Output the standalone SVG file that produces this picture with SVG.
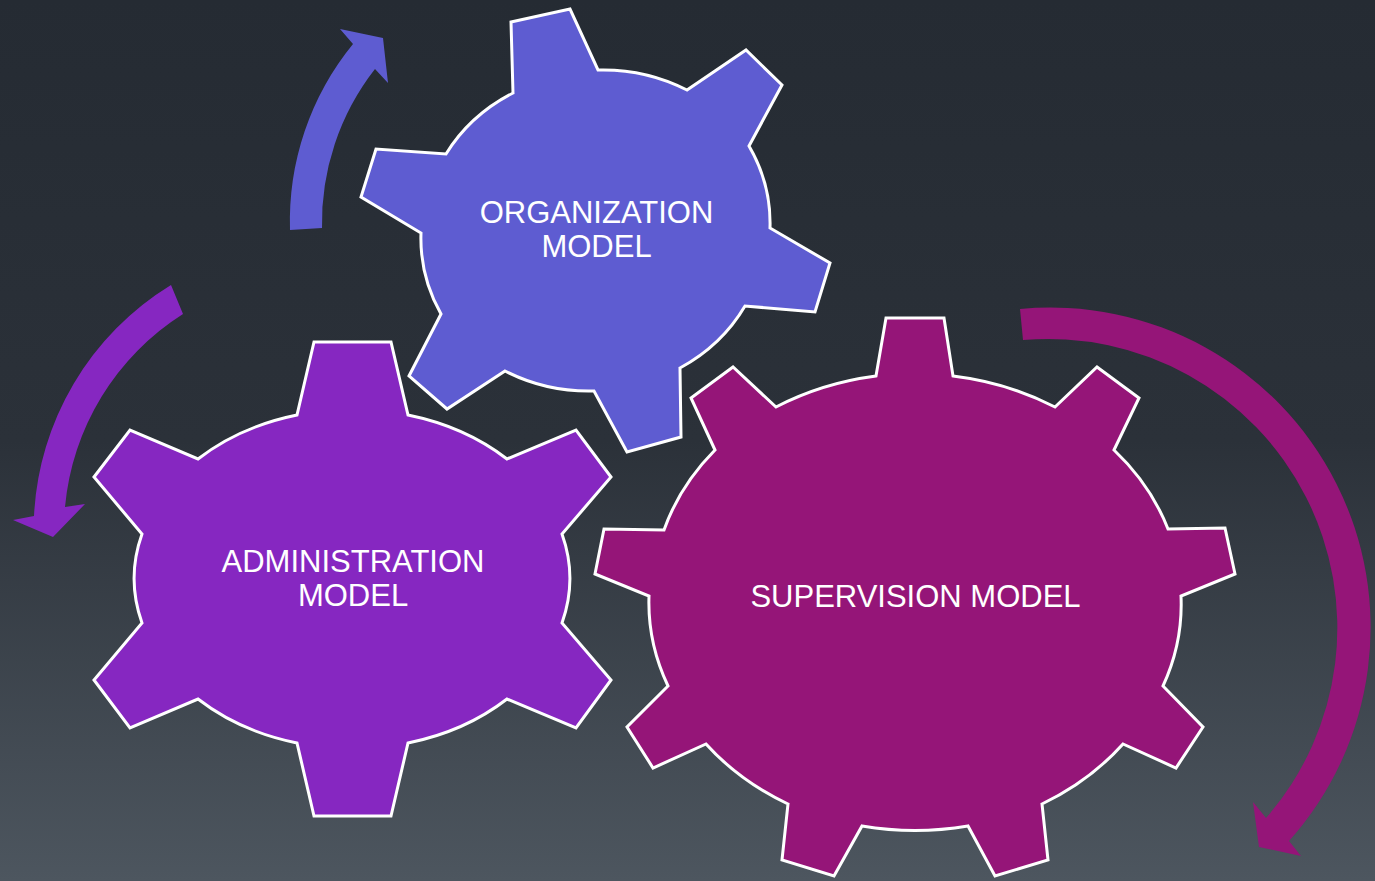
<svg xmlns="http://www.w3.org/2000/svg" width="1375" height="881" viewBox="0 0 1375 881">
  <defs>
    <linearGradient id="bg" x1="0" y1="0" x2="0" y2="1">
      <stop offset="0" stop-color="#252B33"/>
      <stop offset="0.5" stop-color="#2B3139"/>
      <stop offset="1" stop-color="#4D565F"/>
    </linearGradient>
  </defs>
  <style>
    .gear { stroke: #FFFFFF; stroke-width: 3; stroke-linejoin: miter; }
    .blue { fill: #5E5CD1; }
    .violet { fill: #8627C1; }
    .magenta { fill: #951578; }
    .lbl { fill: #FFFFFF; font-family: "Liberation Sans", Arial, sans-serif; font-size: 31px; text-anchor: middle; }
  </style>
  <rect width="1375" height="881" fill="url(#bg)"/>

  <g id="connectors">
    <path class="blue" d="M 290,230 A 280 280 0 0 1 353,44 L 340,29 L 383,38 L 388,83 L 375,69 A 250 250 0 0 0 322,228 Z"/>
    <path class="violet" d="M 171,285 A 287 287 0 0 0 34,516 L 13,520 L 53,537 L 85,504 L 65,507 A 256 256 0 0 1 183,314 Z"/>
    <path class="magenta" d="M 1020,309 A 320 320 0 0 1 1289,841 L 1301,856 L 1259,847 L 1253,802 L 1266,818 A 289 289 0 0 0 1023,340 Z"/>
  </g>

  <g id="organization-model">
    <path class="gear blue" d="M 511,22 L 570,9 L 598,70 A 174 162 0 0 1 687,90 L 746,50 L 782,85 L 749,146 A 174 162 0 0 1 770,228 L 830,263 L 815,312 L 745,306 A 174 162 0 0 1 680,368 L 681,437 L 627,452 L 594,391 A 174 162 0 0 1 505,371 L 447,409 L 409,376 L 441,314 A 174 162 0 0 1 421,233 L 361,197 L 376,149 L 446,154 A 174 162 0 0 1 513,93 Z"/>
    <text class="lbl" x="596.5" y="223">ORGANIZATION</text>
    <text class="lbl" x="596.5" y="257">MODEL</text>
  </g>

  <g id="administration-model">
    <path class="gear violet" d="M 314,342 L 391,342 L 408,415 A 218 168 0 0 1 507,459 L 576,430 L 611,477 L 562,534 A 218 168 0 0 1 562,623 L 611,680 L 576,728 L 507,699 A 218 168 0 0 1 408,743 L 391,816 L 314,816 L 297,743 A 218 168 0 0 1 198,699 L 130,728 L 94,680 L 142,623 A 218 168 0 0 1 142,534 L 94,477 L 130,430 L 198,459 A 218 168 0 0 1 297,415 Z"/>
    <text class="lbl" x="353" y="571.5">ADMINISTRATION</text>
    <text class="lbl" x="353" y="605.5">MODEL</text>
  </g>

  <g id="supervision-model">
    <path class="gear magenta" d="M 886,318 L 944,318 L 953,376 A 268 225 0 0 1 1055,407 L 1097,367 L 1139,398 L 1114,450 A 268 225 0 0 1 1168,529 L 1225,528 L 1235,574 L 1181,596 A 268 225 0 0 1 1163,686 L 1203,727 L 1176,768 L 1123,744 A 268 225 0 0 1 1042,804 L 1048,860 L 995,876 L 968,826 A 268 225 0 0 1 862,826 L 834,876 L 782,860 L 788,804 A 268 225 0 0 1 706,744 L 653,768 L 627,727 L 668,686 A 268 225 0 0 1 649,596 L 595,574 L 604,529 L 664,530 A 268 225 0 0 1 715,450 L 691,398 L 733,367 L 776,407 A 268 225 0 0 1 876,376 Z"/>
    <text class="lbl" x="915.5" y="607">SUPERVISION MODEL</text>
  </g>
</svg>
